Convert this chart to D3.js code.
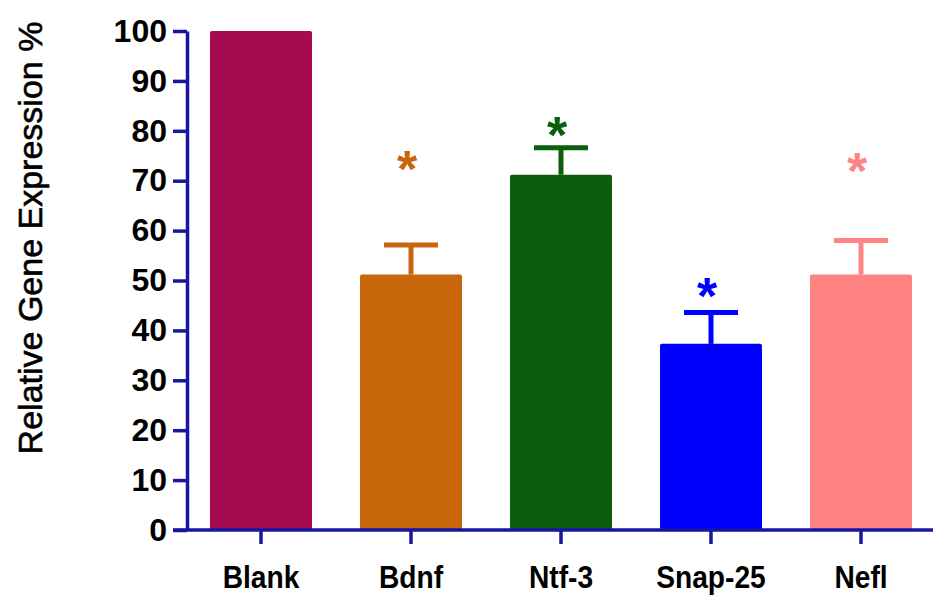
<!DOCTYPE html>
<html>
<head>
<meta charset="utf-8">
<script src="https://cdn.jsdelivr.net/npm/d3@7"></script>
<style>
  body { margin: 0; background: #fff; }
  svg { display: block; }
</style>
</head>
<body>
<svg id="chart" width="933" height="598"></svg>
<script>
// values
const genes = ['Blank', 'Bdnf', 'Ntf-3', 'Snap-25', 'Nefl'];
const means = [100, 51.2, 71.2, 37.3, 51.2];
const errUp = [0, 5.9, 5.4, 6.3, 6.8];
const starAt = [null, 74.6, 81.4, 49.3, 74.2]; // where the * sits, null = no mark
const yTicks = [0, 10, 20, 30, 40, 50, 60, 70, 80, 90, 100];
const barColors = ['#a50b50', '#c8660b', '#0b5e0b', '#0000ff', '#ff8383'];

const svg = d3.select('#chart');
const axisColor = '#1616a0';

const x = d3.scaleBand()
  .domain(genes)
  .range([186, 936])
  .paddingInner(0.32)
  .paddingOuter(0.16);

const y = d3.scaleLinear()
  .domain([0, 100])
  .range([530, 31]);

const color = d3.scaleOrdinal().domain(genes).range(barColors);

const data = genes.map((g, i) => ({ name: g, mean: means[i], err: errUp[i], star: starAt[i] }));

// bars
svg.append('g')
  .selectAll('rect')
  .data(data)
  .join('rect')
  .attr('x', d => x(d.name))
  .attr('y', d => y(d.mean))
  .attr('width', x.bandwidth())
  .attr('height', d => y(0) - y(d.mean))
  .attr('rx', 2)
  .attr('fill', d => color(d.name));

// error bars (upper only)
const eb = svg.append('g')
  .selectAll('g')
  .data(data.filter(d => d.err > 0))
  .join('g')
  .attr('stroke', d => color(d.name))
  .attr('stroke-width', 5);

eb.append('line')
  .attr('x1', d => x(d.name) + x.bandwidth() / 2)
  .attr('x2', d => x(d.name) + x.bandwidth() / 2)
  .attr('y1', d => y(d.mean))
  .attr('y2', d => y(d.mean + d.err));

eb.append('line')
  .attr('x1', d => x(d.name) + x.bandwidth() / 2 - 27)
  .attr('x2', d => x(d.name) + x.bandwidth() / 2 + 27)
  .attr('y1', d => y(d.mean + d.err))
  .attr('y2', d => y(d.mean + d.err));

// significance stars
const starSize = 52;
svg.append('g')
  .selectAll('text')
  .data(data.filter(d => d.star != null))
  .join('text')
  .attr('x', d => x(d.name) + x.bandwidth() / 2 - 4)
  .attr('y', d => y(d.star) + starSize * 0.57)
  .attr('text-anchor', 'middle')
  .attr('font-family', '"Liberation Sans", Arial, sans-serif')
  .attr('font-weight', 'bold')
  .attr('font-size', starSize + 'px')
  .attr('fill', d => color(d.name))
  .text('*');

// axes
const yAxis = svg.append('g')
  .attr('transform', 'translate(187,0)')
  .call(d3.axisLeft(y).tickValues(yTicks).tickSize(14).tickSizeOuter(0).tickPadding(6));

const xAxis = svg.append('g')
  .attr('transform', 'translate(0,530)')
  .call(d3.axisBottom(x).tickSize(14).tickSizeOuter(0).tickPadding(21));

[yAxis, xAxis].forEach(a => {
  a.selectAll('path, line').attr('stroke', axisColor).attr('stroke-width', 3.5);
  a.selectAll('text')
    .attr('fill', '#000')
    .attr('font-family', '"Liberation Sans", Arial, sans-serif')
    .attr('font-weight', 'bold');
});
yAxis.selectAll('text').attr('font-size', '32px');
// category labels are a touch condensed in the original
xAxis.selectAll('text').attr('font-size', '32px').attr('transform', 'scale(0.88,1)');

// x-axis line also runs through the 0 tick
xAxis.select('.domain').attr('d', 'M173,0H933');

// y title
svg.append('text')
  .attr('transform', 'translate(42,238) rotate(-90)')
  .attr('text-anchor', 'middle')
  .attr('font-family', '"Liberation Sans", Arial, sans-serif')
  .attr('font-size', '34px')
  .attr('fill', '#000')
  .attr('stroke', '#000')
  .attr('stroke-width', 0.6)
  .text('Relative Gene Expression %');
</script>
</body>
</html>
